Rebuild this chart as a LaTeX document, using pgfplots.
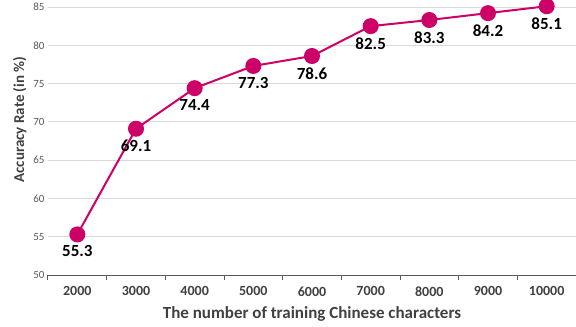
\documentclass[border=0pt]{standalone}
\usepackage{fontspec}
\setmainfont{Carlito}
\usepackage{pgfplots}
\pgfplotsset{compat=1.18}
\definecolor{lc}{RGB}{204,0,102}
\definecolor{tk}{RGB}{89,89,89}
\definecolor{lb}{RGB}{64,64,64}
\definecolor{gr}{RGB}{217,217,217}
\begin{document}
\begin{tikzpicture}
\begin{axis}[
  scale only axis, width=528bp, height=268bp,
  xmin=-0.5, xmax=8.5, ymin=50, ymax=85,
  xtick={0,...,8},
  xticklabels={2000,3000,4000,5000,6000,7000,8000,9000,10000},
  minor xtick={-0.5,0.5,...,8.5},
  ytick={50,55,...,85},
  major tick length=0pt, minor tick length=5bp, tick align=outside,
  axis x line*=bottom, axis y line*=left,
  y axis line style={draw=none},
  x axis line style={draw=tk, line width=1bp},
  every minor tick/.style={draw=tk, line width=1bp},
  ymajorgrids, grid style={draw=gr, line width=0.75bp},
  /pgf/number format/assume math mode=true,
  xticklabel style={font=\fontsize{14bp}{16bp}\selectfont\bfseries, text=lb, yshift=-8bp},
  yticklabel style={font=\fontsize{11bp}{13bp}\selectfont, text=tk},
  xlabel={The number of training Chinese characters},
  xlabel style={font=\fontsize{17bp}{19bp}\selectfont\bfseries, text=lb, yshift=-3bp},
  ylabel={Accuracy Rate (in \%)},
  ylabel style={font=\fontsize{15bp}{17bp}\selectfont\bfseries, text=lb, at={(ticklabel cs:0.58)}},
  clip=false,
  nodes near coords, point meta=explicit symbolic,
  every node near coord/.append style={font=\fontsize{17bp}{19bp}\selectfont\bfseries, text=black, anchor=north, yshift=-7bp},
]
\addplot[lc, line width=2bp, mark=*, mark size=7bp, mark options={fill=lc, draw=lc}] coordinates {
  (0,55.3)[55.3] (1,69.1)[69.1] (2,74.4)[74.4] (3,77.3)[77.3] (4,78.6)[78.6]
  (5,82.5)[82.5] (6,83.3)[83.3] (7,84.2)[84.2] (8,85.1)[85.1]
};
\coordinate (sw) at (rel axis cs:0,0);
\coordinate (ne) at (rel axis cs:1,1);
\end{axis}
\pgfresetboundingbox
\path (sw) ++(-48bp,-51bp) rectangle ([yshift=7bp]ne);
\end{tikzpicture}
\end{document}
